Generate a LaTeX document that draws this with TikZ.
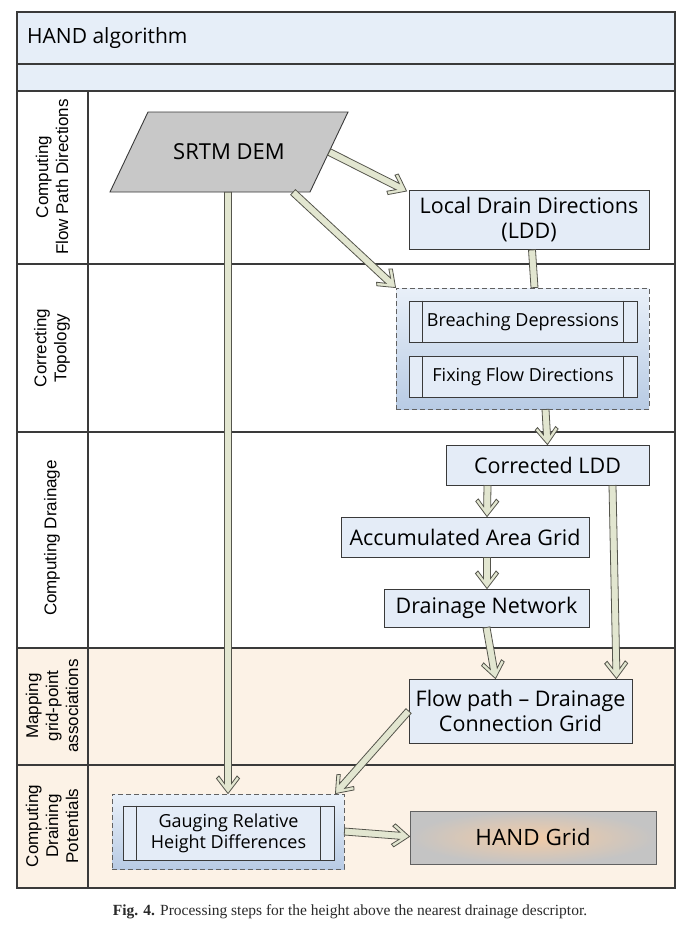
\documentclass[tikz,border=0pt]{standalone}
\usepackage{fontspec}
\setmainfont{Open Sans}
\newfontfamily\lanefont{Liberation Sans}
\newfontfamily\capfont{Liberation Serif}
\usetikzlibrary{calc}
\definecolor{frame}{HTML}{3A3A3A}
\definecolor{hdr}{HTML}{E6EEF8}
\definecolor{boxfill}{HTML}{E4ECF7}
\definecolor{beige}{HTML}{FCF2E6}
\definecolor{afill}{HTML}{E2E6D0}
\definecolor{aline}{HTML}{55554C}
\definecolor{grptop}{HTML}{E9F0F9}
\definecolor{grpbot}{HTML}{B8CBE4}
\definecolor{demgray}{HTML}{C8C8C8}
\definecolor{handin}{HTML}{F2CBA6}
\definecolor{handout}{HTML}{C4C4C4}
\definecolor{captxt}{HTML}{2A2A2A}
\tikzset{
  boxtext/.style={font=\fontsize{21.5}{25}\selectfont, align=center, inner sep=0pt},
  procbox/.style={boxtext, draw=frame, line width=0.9pt, fill=boxfill},
  subbox/.style={procbox, font=\fontsize{18}{21}\selectfont},
  grpbox/.style={draw=frame!80, line width=0.9pt, dashed, dash pattern=on 5pt off 3pt, top color=grptop, bottom color=grpbot},
  lanelabel/.style={rotate=90, align=center, inner sep=0pt, font=\lanefont\fontsize{17}{20}\selectfont},
  lanerule/.style={draw=frame, line width=1.1pt},
  barrow/.style={draw=aline, line width=0.8pt, fill=afill, line join=miter},
}
\newcommand\blockarrow[2]{%
  \coordinate (baS) at #1;
  \coordinate (baE) at #2;
  \coordinate (baA) at ($(baE)!10pt!(baS)$);
  \coordinate (baB) at ($(baE)!17.5pt!(baS)$);
  \coordinate (baC) at ($(baE)!15pt!(baS)$);
  \filldraw[barrow]
    ($(baS)!3.5pt!90:(baE)$) -- ($(baA)!3.5pt!90:(baE)$) -- ($(baB)!9pt!90:(baE)$)
    -- ($(baC)!11.5pt!90:(baE)$) -- (baE) -- ($(baC)!11.5pt!-90:(baE)$)
    -- ($(baB)!9pt!-90:(baE)$) -- ($(baA)!3.5pt!-90:(baE)$) -- ($(baS)!3.5pt!-90:(baE)$) -- cycle;
}
\newcommand\blockshaft[2]{%
  \coordinate (baS) at #1;
  \coordinate (baE) at #2;
  \filldraw[barrow]
    ($(baS)!3.5pt!90:(baE)$) -- ($(baE)!3.5pt!-90:(baS)$) -- ($(baE)!3.5pt!90:(baS)$) -- ($(baS)!3.5pt!-90:(baE)$) -- cycle;
}
\begin{document}
\begin{tikzpicture}[x=1pt,y=-1pt]
\useasboundingbox[fill=white] (0,0) rectangle (700,937);
% backgrounds
\fill[hdr] (17,12) rectangle (675,91);
\fill[beige] (17,648) rectangle (675,888);
% lane rules
\draw[lanerule] (17,64) -- (675,64);
\draw[lanerule] (17,91) -- (675,91);
\draw[lanerule] (17,264) -- (675,264);
\draw[lanerule] (17,432) -- (675,432);
\draw[lanerule] (17,648) -- (675,648);
\draw[lanerule] (17,765) -- (675,765);
\draw[lanerule] (88,91) -- (88,888);
\draw[lanerule] (17,12) rectangle (675,888);
% title
\node[anchor=west, inner sep=0pt, font=\fontsize{21}{25}\selectfont] (title) at (27,38) {HAND algorithm};
% lane labels
\node[lanelabel] (l1) at (52,177) {Computing\\Flow Path Directions};
\node[lanelabel] (l2) at (52,348) {Correcting\\Topology};
\node[lanelabel] (l3) at (52,538) {Computing Drainage};
\node[lanelabel] (l4) at (52,706) {Mapping\\grid-point\\associations};
\node[lanelabel] (l5) at (52,826) {Computing\\Draining\\Potentials};
% SRTM DEM
\draw[frame, line width=0.9pt, fill=demgray] (110,192) -- (148,112) -- (348,112) -- (310,192) -- cycle;
\node[boxtext, font=\fontsize{22}{26}\selectfont, minimum width=200pt, minimum height=80pt] (srtm) at (229,152) {SRTM DEM};
% process nodes
\node[procbox, minimum width=240pt, minimum height=59pt] (ldd) at (529,220) {Local Drain Directions\\(LDD)};
\node[grpbox, minimum width=253pt, minimum height=121pt, inner sep=0pt] (grp) at (522.5,348.5) {};
\node[subbox, minimum width=228pt, minimum height=41pt] (breach) at (523,321.5) {Breaching Depressions};
\node[subbox, minimum width=228pt, minimum height=41pt] (fixing) at (523,376.5) {Fixing Flow Directions};
\foreach \n in {breach,fixing}{
  \draw[frame, line width=0.9pt] ($(\n.north west)+(14,0)$) -- ($(\n.south west)+(14,0)$);
  \draw[frame, line width=0.9pt] ($(\n.north east)+(-14,0)$) -- ($(\n.south east)+(-14,0)$);
}
\node[procbox, minimum width=203pt, minimum height=40pt] (cldd) at (547.5,465) {Corrected LDD};
\node[procbox, minimum width=248pt, minimum height=40pt] (accum) at (465,537) {Accumulated Area Grid};
\node[procbox, minimum width=205pt, minimum height=38pt] (dnet) at (486.5,608) {Drainage Network};
\node[procbox, minimum width=223pt, minimum height=64pt] (flow) at (520.5,711) {Flow path – Drainage\\Connection Grid};
\node[grpbox, minimum width=232pt, minimum height=75pt, inner sep=0pt] (ggrp) at (228,831.5) {};
\node[subbox, minimum width=211pt, minimum height=54pt] (gauge) at (228.5,833) {Gauging Relative\\Height Differences};
\draw[frame, line width=0.9pt] ($(gauge.north west)+(14,0)$) -- ($(gauge.south west)+(14,0)$);
\draw[frame, line width=0.9pt] ($(gauge.north east)+(-14,0)$) -- ($(gauge.south east)+(-14,0)$);
\node[boxtext, font=\fontsize{22.5}{26}\selectfont, draw=frame!80, line width=0.9pt, inner color=handin, outer color=handout, minimum width=246pt, minimum height=53pt] (hand) at (533,837.5) {HAND Grid};
% connectors
\blockarrow{(srtm.east)}{($(ldd.north west)+(-2,1)$)}
\blockarrow{($(srtm.south)+(64,0)$)}{(grp.north west)}
\blockarrow{($(srtm.south)+(-1,0)$)}{(ggrp.north)}
\blockshaft{($(ldd.south)+(3,0)$)}{($(grp.north)+(12,0)$)}
\blockarrow{($(grp.south)+(23,0)$)}{(cldd.north)}
\blockarrow{($(cldd.south)+(-60,0)$)}{($(accum.north)+(22,0)$)}
\blockarrow{($(accum.south)+(22,0)$)}{($(dnet.north)+(0.5,0)$)}
\blockarrow{(dnet.south)}{($(flow.north)+(-25,0)$)}
\blockarrow{($(cldd.south)+(65,0)$)}{($(flow.north)+(96,0)$)}
\blockarrow{(flow.west)}{($(ggrp.north east)+(-9,0)$)}
\blockarrow{(ggrp.east)}{($(hand.west)+(0,-1)$)}
% caption
\node[font=\capfont\fontsize{15.5}{18}\selectfont, text=captxt, inner sep=0pt] (caption) at (350,912) {\textbf{Fig. 4.} Processing steps for the height above the nearest drainage descriptor.};
\end{tikzpicture}
\end{document}
